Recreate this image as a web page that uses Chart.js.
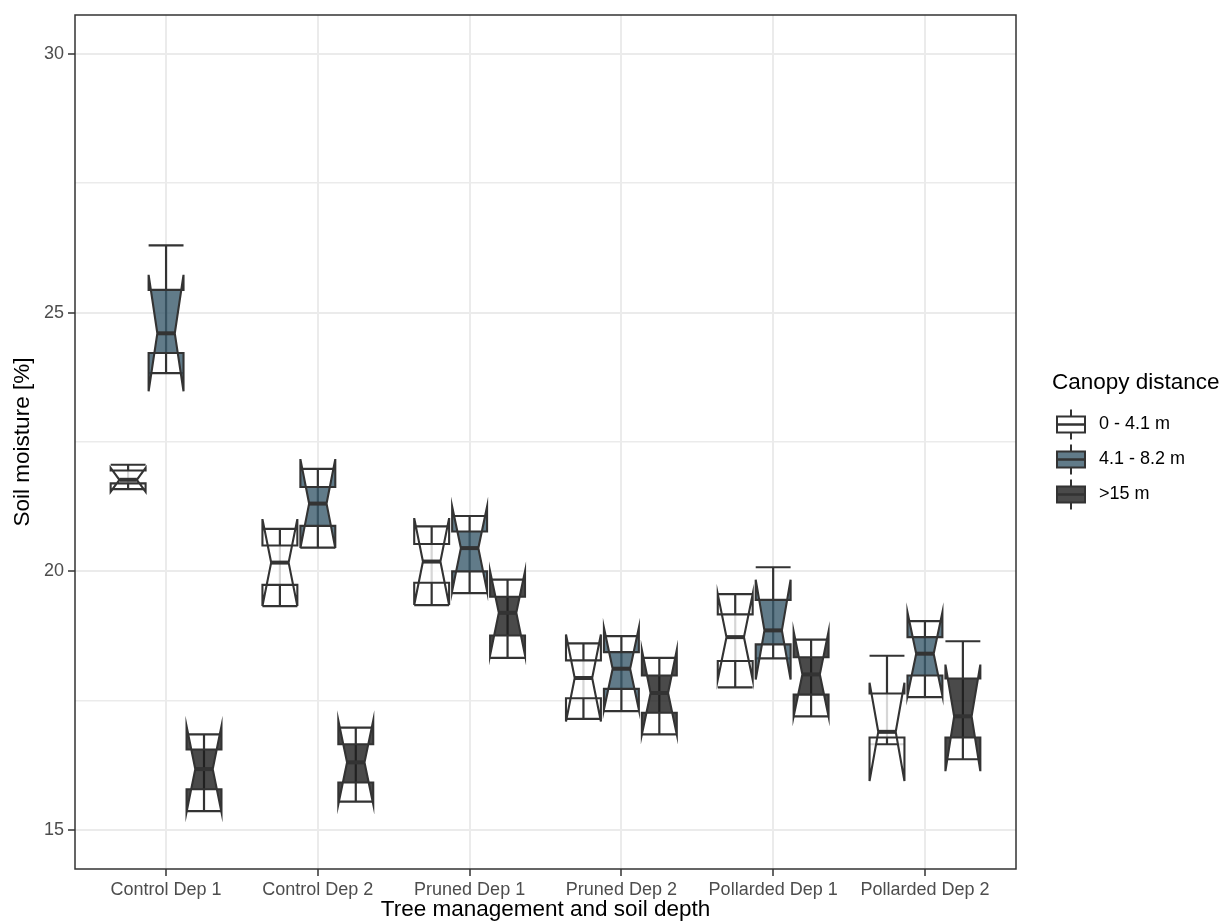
<!DOCTYPE html>
<html>
<head>
<meta charset="utf-8">
<script src="https://cdn.jsdelivr.net/npm/chart.js@4.4.1/dist/chart.umd.min.js"></script>
<style>
html,body{margin:0;padding:0;background:#fff}
#wrap{width:1231px;height:923px}
</style>
</head>
<body>
<div id="wrap"><canvas id="c" width="1231" height="923"></canvas></div>
<script>
const CATEGORIES = ['Control Dep 1','Control Dep 2','Pruned Dep 1','Pruned Dep 2','Pollarded Dep 1','Pollarded Dep 2'];
const GROUPS = ['0 - 4.1 m','4.1 - 8.2 m','>15 m'];
const Y_TICKS = [15,17.5,20,22.5,25,27.5,30];

// one row per canopy distance group, one value per category
const whiskerLo = [
  [21.59,19.33,19.35,17.15,17.76,16.66],
  [23.83,20.46,19.58,17.30,18.32,17.57],
  [15.37,15.55,18.33,16.85,17.20,16.37]];
const q1 = [
  [21.70,19.74,19.78,17.55,18.27,16.79],
  [24.22,20.88,20.00,17.73,18.59,17.99],
  [15.79,15.92,18.76,17.27,17.62,16.79]];
const median = [
  [21.77,20.17,20.19,17.94,18.73,16.90],
  [24.60,21.31,20.45,18.12,18.86,18.41],
  [16.18,16.31,19.20,17.65,18.01,17.20]];
const q3 = [
  [21.95,20.50,20.53,18.28,19.17,17.64],
  [25.44,21.63,20.77,18.44,19.45,18.73],
  [16.56,16.66,19.51,17.99,18.34,17.93]];
const whiskerHi = [
  [22.06,20.82,20.87,18.61,19.56,18.37],
  [26.30,21.98,21.07,18.75,20.08,19.04],
  [16.85,16.98,19.84,18.33,18.68,18.65]];
const notchLo = [
  [21.54,19.33,19.35,17.10,17.91,15.95],
  [23.48,20.45,19.62,17.33,17.91,17.60],
  [15.35,15.50,18.38,16.85,17.20,16.14]];
const notchHi = [
  [22.00,21.01,21.03,18.78,19.56,17.85],
  [25.73,22.17,21.25,18.91,19.84,19.21],
  [17.01,17.12,20.00,18.48,18.84,18.20]];

const FONT = '"Liberation Sans", Arial, Helvetica, sans-serif';
const LINE = '#333333';
const FILLS = ['rgba(255,255,255,0.8)','rgba(58,90,108,0.8)','rgba(29,29,29,0.8)'];
const DODGE = [-0.25,0,0.25];
const BOX_W = 0.23;

function drawBox(ctx, x, y, gi, i){
  const xc = i + DODGE[gi];
  const xl = x.getPixelForValue(xc - BOX_W/2), xr = x.getPixelForValue(xc + BOX_W/2), xm = x.getPixelForValue(xc);
  const ind = (xr - xl) * 0.25;
  const py = v => y.getPixelForValue(v);
  const lo = py(whiskerLo[gi][i]), hi = py(whiskerHi[gi][i]);
  // errorbar first, box on top
  ctx.strokeStyle = LINE; ctx.lineWidth = 2.2;
  ctx.beginPath();
  ctx.moveTo(xm, lo); ctx.lineTo(xm, hi);
  ctx.moveTo(xl, lo); ctx.lineTo(xr, lo);
  ctx.moveTo(xl, hi); ctx.lineTo(xr, hi);
  ctx.stroke();
  const a = py(q3[gi][i]), nu = py(notchHi[gi][i]), m = py(median[gi][i]), nl = py(notchLo[gi][i]), b = py(q1[gi][i]);
  const pts = [[xl,a],[xl,nu],[xl+ind,m],[xl,nl],[xl,b],[xr,b],[xr,nl],[xr-ind,m],[xr,nu],[xr,a]];
  ctx.beginPath();
  pts.forEach((p,k)=> k ? ctx.lineTo(p[0],p[1]) : ctx.moveTo(p[0],p[1]));
  ctx.closePath();
  ctx.fillStyle = FILLS[gi]; ctx.fill();
  ctx.lineWidth = 2.1; ctx.stroke();
  ctx.lineWidth = 4;
  ctx.beginPath(); ctx.moveTo(xl+ind, m); ctx.lineTo(xr-ind, m); ctx.stroke();
}

const boxPlugin = {
  id:'notchedBoxes',
  afterDatasetsDraw(chart){
    const {ctx, chartArea:ca, scales:{x,y}} = chart;
    ctx.save();
    ctx.lineJoin = 'miter';
    GROUPS.forEach((g,gi)=> CATEGORIES.forEach((c,i)=> drawBox(ctx, x, y, gi, i)));
    // panel border
    ctx.strokeStyle = LINE; ctx.lineWidth = 1.5;
    ctx.strokeRect(ca.left, ca.top, ca.right-ca.left, ca.bottom-ca.top);
    // legend
    ctx.fillStyle = '#000'; ctx.textBaseline = 'middle'; ctx.textAlign = 'left';
    ctx.font = '22.5px ' + FONT;
    ctx.fillText('Canopy distance', 1052, 383);
    ctx.font = '18px ' + FONT;
    GROUPS.forEach((g,gi)=>{
      const cy = 424.5 + gi*35, xl = 1057, xr = 1085, xm = 1071;
      ctx.strokeStyle = LINE; ctx.lineWidth = 2;
      ctx.beginPath(); ctx.moveTo(xm, cy-15); ctx.lineTo(xm, cy+15); ctx.stroke();
      ctx.fillStyle = '#fff'; ctx.fillRect(xl, cy-8, xr-xl, 16);
      ctx.fillStyle = FILLS[gi]; ctx.fillRect(xl, cy-8, xr-xl, 16);
      ctx.strokeRect(xl, cy-8, xr-xl, 16);
      ctx.lineWidth = 2.5;
      ctx.beginPath(); ctx.moveTo(xl, cy); ctx.lineTo(xr, cy); ctx.stroke();
      ctx.fillStyle = '#000';
      ctx.fillText(g, 1099, cy);
    });
    ctx.restore();
  }
};

new Chart(document.getElementById('c'),{
  type:'scatter',
  data:{datasets:GROUPS.map((g,gi)=>({label:g,data:median[gi].map((v,i)=>({x:i+DODGE[gi],y:v})),pointRadius:0,showLine:false}))},
  plugins:[boxPlugin],
  options:{
    responsive:false, animation:false, events:[],
    layout:{padding:{top:15,right:215,left:0,bottom:0}},
    plugins:{legend:{display:false},tooltip:{enabled:false}},
    scales:{
      x:{type:'linear',min:-0.6,max:5.6,
        afterBuildTicks:s=>{s.ticks=CATEGORIES.map((c,i)=>({value:i}));},
        afterFit:s=>{s.height=54;},
        ticks:{callback:v=>CATEGORIES[v],color:'#4D4D4D',font:{family:FONT,size:18},padding:3,maxRotation:0,autoSkip:false},
        grid:{color:'#EBEBEB',lineWidth:2,tickLength:7,tickColor:LINE,tickWidth:1.5},
        border:{display:false},
        title:{display:true,text:'Tree management and soil depth',color:'#000',font:{family:FONT,size:22.5},padding:{top:0,bottom:0}}
      },
      y:{type:'linear',min:14.25,max:30.75,
        afterBuildTicks:s=>{s.ticks=Y_TICKS.map(v=>({value:v}));},
        afterFit:s=>{s.width=75;},
        ticks:{callback:v=>v%5===0?String(v):'',color:'#4D4D4D',font:{family:FONT,size:18},padding:4},
        grid:{color:'#EBEBEB',lineWidth:c=>c.tick&&c.tick.value%5===0?2:1.5,tickLength:7,
          tickColor:c=>c.tick&&c.tick.value%5===0?LINE:'rgba(0,0,0,0)',tickWidth:1.5},
        border:{display:false},
        title:{display:true,text:'Soil moisture [%]',color:'#000',font:{family:FONT,size:22.5},padding:{top:9,bottom:0}}
      }
    }
  }
});
</script>
</body>
</html>
